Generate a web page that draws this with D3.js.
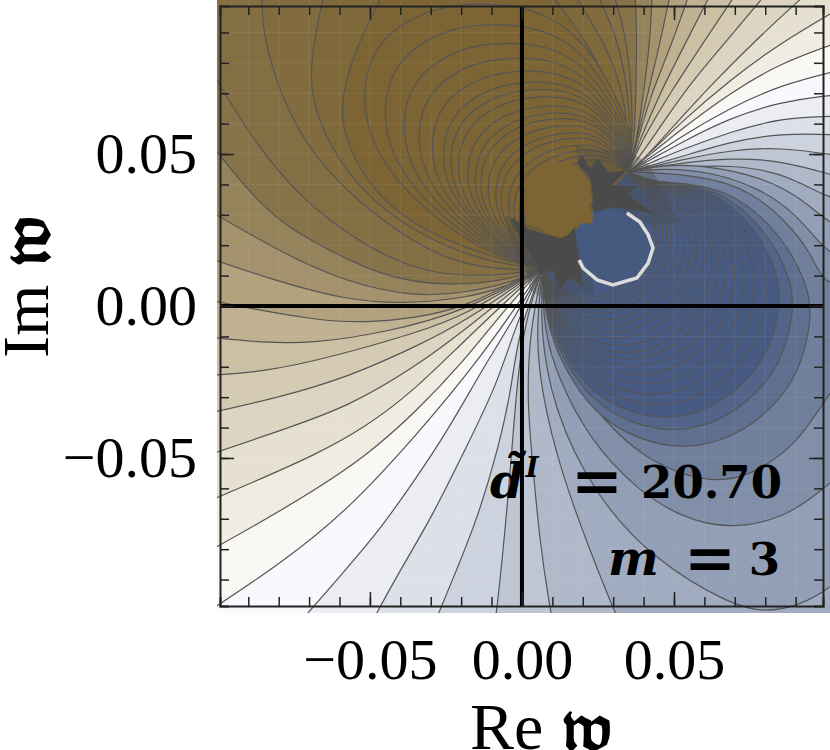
<!DOCTYPE html>
<html>
<head>
<meta charset="utf-8">
<script src="https://cdn.jsdelivr.net/npm/d3@7"></script>
<style>
  html, body { margin: 0; padding: 0; background: #fff; }
  svg { display: block; }
</style>
</head>
<body>
<div id="chart"></div>
<script>

const focusLow = [6.9, 12.8];
const focusHigh = [34.9, 44.1];

// Brown side contours that leave the frame, from the white band outwards
const brownLower = [
  [[-13.2,-16.8],[-35.2,-43.1],[-57.2,-67.1],[-79.0,-84.6],[-105.9,-102.3]],
  [[-7.2,-3.0],[-18.8,-17.8],[-35.2,-35.2],[-51.7,-49.7],[-68.1,-60.5],[-84.6,-70.4],[-105.9,-82.3]],
  [[-18.8,-11.2],[-35.2,-27.6],[-51.7,-40.1],[-68.1,-49.0],[-84.6,-56.3],[-105.9,-65.5]],
  [[-18.8,-7.9],[-35.2,-20.1],[-57.2,-33.2],[-79.0,-40.8],[-105.9,-50.0]],
  [[-18.8,-5.3],[-35.2,-13.5],[-57.2,-23.4],[-79.0,-29.9],[-105.9,-35.9]],
  [[-18.8,-3.3],[-35.2,-8.9],[-62.5,-16.8],[-84.6,-21.7],[-105.9,-23.0]],
  [[-18.8,-2.0],[-46.1,-8.9],[-68.1,-12.2],[-84.6,-12.2],[-105.9,-9.9]],
  [[-18.8,-0.7],[-35.2,-3.9],[-51.7,-5.6],[-68.1,-4.6],[-90.1,-0.7],[-105.9,2.6]],
  [[-5.6,5.9],[-20.4,2.3],[-40.1,0.7],[-57.2,2.0],[-79.0,7.6],[-105.9,16.8]],
  [[-2.3,7.9],[-18.8,4.3],[-35.2,3.0],[-57.2,7.6],[-79.0,17.4],[-105.9,33.2]],
  [[-2.3,8.9],[-24.3,6.3],[-46.1,9.5],[-68.1,20.7],[-84.6,30.6],[-105.9,57.9]],
  [[-2.3,10.2],[-29.6,9.5],[-51.7,19.4],[-73.7,35.9],[-90.1,56.9],[-104.3,80.9]],
  [[-0.7,11.5],[-24.3,13.8],[-48.4,29.3],[-68.1,48.0],[-79.0,67.8],[-85.5,89.8],[-85.5,104.0]],
  [[-0.7,12.8],[-18.8,16.5],[-40.8,27.3],[-57.2,42.4],[-68.1,62.2],[-70.4,78.6],[-64.8,104.0]],
  [[-0.7,13.5],[-18.8,19.1],[-35.2,26.3],[-49.4,38.2],[-57.2,52.3],[-60.2,64.5],[-55.9,82.6],[-45.1,104.0]]
];
const brownUpper = [
  [[104.6,77.6],[84.9,72.7],[68.4,65.1],[52.0,55.6],[42.1,48.7]],
  [[104.6,86.9],[84.9,79.9],[68.4,70.1],[52.0,57.9],[42.1,49.7]],
  [[104.6,98.0],[84.9,86.5],[68.4,74.4],[52.0,60.2],[42.1,50.3]],
  [[93.1,102.3],[79.3,89.8],[62.8,73.4],[48.7,57.9],[39.8,48.0]],
  [[79.9,102.3],[68.4,88.5],[54.3,72.1],[43.8,56.3]],
  [[70.1,102.3],[60.9,88.5],[48.7,70.1],[39.5,54.6]],
  [[61.9,102.3],[54.3,87.5],[45.4,70.1],[38.8,54.6]],
  [[54.9,102.3],[49.4,86.5],[42.1,68.8],[38.2,54.6]],
  [[48.7,102.3],[45.4,86.5],[41.1,68.8],[37.8,54.6]],
  [[42.8,102.3],[42.1,86.5],[39.8,68.8],[37.8,54.6]],
  [[37.2,102.3],[37.8,89.8],[37.5,72.7],[37.2,56.3]],
  [[30.3,102.3],[34.2,89.2],[35.9,72.7],[36.5,57.9]],
  [[25.0,102.3],[31.6,87.5],[34.5,72.7],[35.9,57.9]],
  [[17.4,102.3],[26.6,87.5],[32.2,74.4],[34.9,59.5]],
  [[9.9,102.3],[20.1,88.5],[28.0,74.4],[33.6,59.5]]
];

// Blue side contours that leave the frame, from the white band outwards
const blueLower = [
  [[-2.3,-3.6],[-13.2,-21.1],[-24.3,-40.8],[-35.2,-57.2],[-46.1,-72.7],[-57.2,-85.9],[-73.0,-104.0]],
  [[-1.6,-4.6],[-7.9,-25.3],[-18.8,-47.4],[-29.6,-69.4],[-39.5,-85.9],[-49.4,-104.0]],
  [[-1.3,-8.9],[-3.3,-26.6],[-7.9,-47.4],[-14.5,-69.4],[-21.1,-85.9],[-28.6,-104.0]],
  [[1.0,-4.6],[-1.6,-25.3],[-3.3,-47.4],[-5.6,-74.7],[-8.2,-99.4],[-8.9,-104.0]],
  [[2.6,-7.9],[1.6,-30.9],[3.6,-53.0],[5.9,-78.0],[9.2,-99.4],[10.2,-104.0]],
  [[4.3,-9.5],[6.9,-30.9],[12.5,-53.0],[20.1,-74.7],[29.9,-99.4],[32.2,-104.0]],
  [[5.9,-7.9],[10.2,-33.6],[23.4,-61.5],[43.1,-83.6],[69.4,-98.7],[79.9,-100.7],[90.5,-98.7],[99.0,-94.4],[106.3,-88.5]],
  [[6.9,-7.9],[12.5,-25.3],[22.4,-44.1],[37.8,-60.5],[52.0,-69.4],[68.4,-73.7],[87.2,-69.4],[99.0,-60.2],[106.3,-54.0]],
  [[10.2,-7.9],[16.8,-23.4],[26.6,-37.5],[39.8,-49.7],[54.3,-56.3],[67.4,-57.9],[78.3,-54.0],[90.5,-45.1],[99.0,-31.9],[104.6,-24.3]]
];
const blueUpper = [
  [[104.6,69.4],[99.0,69.1],[84.9,67.1],[68.4,61.9],[52.0,53.6],[42.1,48.0]],
  [[104.6,62.5],[84.9,61.9],[68.4,57.2],[52.0,51.3],[42.1,47.0]],
  [[104.6,56.3],[84.9,56.9],[68.4,54.0],[52.0,49.0],[42.1,46.1]],
  [[104.6,49.4],[84.9,52.3],[68.4,51.3],[52.0,48.0],[42.1,45.7]],
  [[104.6,42.4],[84.9,48.0],[68.4,48.7],[52.0,47.0],[42.1,45.4]],
  [[104.6,34.9],[99.0,36.5],[84.9,44.1],[68.4,46.4],[52.0,45.7],[42.1,44.7]],
  [[104.6,25.7],[99.0,29.0],[90.5,36.5],[76.7,43.1],[58.6,46.4],[46.4,46.4]],
  [[104.6,15.8],[99.0,19.1],[90.5,29.9],[79.3,38.2],[62.8,44.1],[46.4,45.4]],
  [[104.6,6.9],[99.0,7.9],[94.8,17.8],[87.2,27.6],[76.0,37.2],[62.8,42.1],[46.4,43.8]]
];

// Shape of a closed lobe, along and across the line between the two fans
const brownLobeShape = [
  [-25.0,6.5],[-29.4,19.3],[-30.9,35.7],[-29.9,52.9],[-24.5,66.6],[-15.4,76.1],[-5.1,80.9],[5.9,80.5],
  [17.0,75.9],[25.7,68.7],[33.8,59.1],[38.8,49.1],[40.3,38.5],[38.0,26.3],[33.7,14.9],[29.2,5.1]
];
const blueLobeShape = [
  [-33.5,12.1],[-41.1,26.8],[-45.7,44.3],[-42.8,61.0],[-34.5,75.0],[-20.7,84.7],[0,88.0],[14.8,83.5],
  [27.5,75.5],[33.0,67.5],[37.4,56.8],[39.6,42.9],[38.2,29.6],[31.9,17.6],[24.6,9.5]
];
const brownLobeSizes = [1.1,0.99,0.89,0.81,0.74,0.68,0.64,0.6,0.55,0.51,0.48,0.44,0.4,0.37,0.33,0.3,0.27,0.24];
const blueLobeSizes = [1,0.92,0.86,0.8,0.75,0.7,0.655,0.615,0.58,0.55,0.515,0.48,0.45,0.42,0.39,0.36,0.34,0.32,0.3,0.28];

// The flat patches and the dark tangle of lines between them
const brownBlob = [
  [1.0,39.2],[4.3,45.4],[9.2,47.4],[15.1,47.4],[19.1,44.7],[22.4,40.8],[22.4,36.5],[23.4,34.2],
  [21.4,32.6],[23.4,29.9],[23.0,27.0],[17.4,27.6],[15.1,23.4],[12.5,22.4],[8.2,24.0],[1.0,29.0]
];
const blueBlob = [
  [24.0,30.6],[29.9,31.9],[34.5,30.6],[38.8,27.6],[41.5,23.4],[43.1,19.1],[41.5,14.1],[37.8,9.2],[29.9,6.9],
  [24.7,8.6],[20.1,12.5],[18.8,15.1],[19.1,19.1],[17.8,19.7],[18.8,22.7],[18.1,25.7],[23.4,27.3]
];
const blueRim = blueBlob.slice(2, 12);
const upperTangle = [
  [19.7,49.7],[22.4,45.4],[25.0,48.7],[28.3,43.8],[34.5,44.7],[29.6,39.8],[37.8,39.2],[34.5,36.5],
  [44.4,29.9],[37.8,31.6],[29.9,32.6],[24.0,30.9],[22.4,33.9],[23.4,35.9],[22.4,42.1],[18.1,47.0]
];
const lowerTangle = [
  [-3.9,29.3],[2.6,25.0],[12.5,22.4],[15.8,24.0],[17.4,26.0],[18.1,19.4],[19.1,15.1],
  [20.1,6.3],[15.8,9.5],[12.5,5.3],[10.2,11.8],[5.9,10.9],[4.9,14.1],[0.3,20.7]
];
const upperHaze = [
  [17.4,53.0],[25.7,51.3],[34.9,51.3],[42.1,46.4],[47.0,36.5],[52.0,27.6],[42.1,26.6],[33.9,29.9],[22.4,31.6],[19.1,43.1]
];
const lowerHaze = [
  [-5.6,29.9],[2.6,26.6],[19.1,21.7],[22.4,13.5],[24.0,3.6],[15.8,3.6],[7.6,2.0],[2.6,5.3],[1.0,13.5],[-3.9,21.7]
];

const minorTicks = d3.range(-9, 10).map((d) => d / 100);
const majorTicks = [-0.05, 0, 0.05];

// Set up chart
const svg = d3.select("#chart").append("svg").attr("width", 830).attr("height", 750);

const x = d3.scaleLinear().domain([-0.0993, 0.099]).range([220, 823]);
const y = d3.scaleLinear().domain([-0.0987, 0.0987]).range([606, 6]);

const line = d3
  .line()
  .x((d) => x(d[0] / 1000))
  .y((d) => y(d[1] / 1000))
  .curve(d3.curveBasis);

const straight = d3
  .line()
  .x((d) => x(d[0] / 1000))
  .y((d) => y(d[1] / 1000));

svg
  .append("defs")
  .append("clipPath")
  .attr("id", "field")
  .append("rect")
  .attr("x", 217)
  .attr("y", 0)
  .attr("width", 613)
  .attr("height", 613);

// Colour of each band
const brownColor = d3
  .scaleLinear()
  .domain([0, 2, 5, 7, 10, 14])
  .range(["#f9f8f4", "#e6e0d0", "#ccc0a4", "#b2a27e", "#87734a", "#7c6434"])
  .clamp(true);
const blueColor = d3
  .scaleLinear()
  .domain([0, 3, 6, 9, 11])
  .range(["#ebedf2", "#bec6d4", "#939fb6", "#5e6f8f", "#465a82"])
  .clamp(true);

// Lobe between the two fans, scaled from its shape
function lobe(shape, size, side) {
  const len = Math.hypot(focusHigh[0] - focusLow[0], focusHigh[1] - focusLow[1]);
  const ux = (focusHigh[0] - focusLow[0]) / len;
  const uy = (focusHigh[1] - focusLow[1]) / len;
  const mx = (focusHigh[0] + focusLow[0]) / 2;
  const my = (focusHigh[1] + focusLow[1]) / 2;
  const pts = shape.map((d, i) => {
    const c = -len / 2 + (len * (i + 1)) / (shape.length + 1);
    const a = size * d[0] + (1 - size) * c;
    const b = size * d[1];
    return [mx + ux * a + side * uy * b, my + uy * a - side * ux * b];
  });
  return line([focusLow, ...pts, focusHigh]);
}

// Contour that runs off the frame: smooth branches joined outside the clip
function outer(lower, corners, upper) {
  return (
    line([focusLow, ...lower]) +
    straight(corners).replace("M", "L") +
    line([...upper, focusHigh]).replace("M", "L")
  );
}

const brownBands = [
  ...brownLower.map((d, i) => outer(d, [[-140, 134], [125, 134]], brownUpper[i])),
  ...brownLobeSizes.map((s) => lobe(brownLobeShape, s, -1))
];
const blueBands = [
  ...blueLower.map((d, i) => outer(d, [[125, -120], [125, -163]], blueUpper[i])),
  ...blueLobeSizes.map((s) => lobe(blueLobeShape, s, 1))
];

const field = svg.append("g").attr("clip-path", "url(#field)");

field
  .append("rect")
  .attr("x", 217)
  .attr("y", 0)
  .attr("width", 613)
  .attr("height", 613)
  .attr("fill", "#f8f9fc");

// Filled contour bands, outermost first
[
  [brownBands, brownColor],
  [blueBands, blueColor]
].forEach(([bands, color]) => {
  field
    .append("g")
    .selectAll("path")
    .data(bands)
    .enter()
    .append("path")
    .attr("d", (d) => d)
    .attr("fill", (d, i) => color(i))
    .attr("stroke", "#555")
    .attr("stroke-width", 1.2);
});

// Faint mesh showing through the field
field
  .append("g")
  .selectAll("line")
  .data(minorTicks)
  .enter()
  .append("line")
  .attr("x1", (d) => x(d))
  .attr("x2", (d) => x(d))
  .attr("y1", 0)
  .attr("y2", 613)
  .attr("stroke", "#fff")
  .attr("stroke-opacity", 0.07);
field
  .append("g")
  .selectAll("line")
  .data(minorTicks)
  .enter()
  .append("line")
  .attr("y1", (d) => y(d))
  .attr("y2", (d) => y(d))
  .attr("x1", 217)
  .attr("x2", 830)
  .attr("stroke", "#fff")
  .attr("stroke-opacity", 0.07);

// Tangle of lines and flat patches
[upperHaze, lowerHaze].forEach((d) => {
  field.append("path").attr("d", straight(d) + "Z").attr("fill", "#4a4a4a").attr("fill-opacity", 0.35);
});
[upperTangle, lowerTangle].forEach((d) => {
  field.append("path").attr("d", straight(d) + "Z").attr("fill", "#4a4a4a");
});
field.append("path").attr("d", straight(brownBlob) + "Z").attr("fill", "#7d6434");
field.append("path").attr("d", straight(blueBlob) + "Z").attr("fill", "#46597f");
field
  .append("path")
  .attr("d", straight(blueRim))
  .attr("fill", "none")
  .attr("stroke", "#dcdcdc")
  .attr("stroke-width", 3.5);

// Zero lines
svg
  .append("line")
  .attr("x1", x.range()[0])
  .attr("x2", x.range()[1])
  .attr("y1", y(0))
  .attr("y2", y(0))
  .attr("stroke", "#000")
  .attr("stroke-width", 4);
svg
  .append("line")
  .attr("x1", x(0))
  .attr("x2", x(0))
  .attr("y1", y.range()[0])
  .attr("y2", y.range()[1])
  .attr("stroke", "#000")
  .attr("stroke-width", 4);

// Frame and inward ticks on all four sides
const frameAxes = [
  [d3.axisBottom(x), `translate(0,${y.range()[0]})`],
  [d3.axisTop(x), `translate(0,${y.range()[1]})`],
  [d3.axisLeft(y), `translate(${x.range()[0]},0)`],
  [d3.axisRight(y), `translate(${x.range()[1]},0)`]
];
frameAxes.forEach(([axis, move]) => {
  const g = svg
    .append("g")
    .attr("transform", move)
    .call(axis.tickValues(minorTicks).tickSizeOuter(0).tickSize(-9).tickFormat(""));
  g.selectAll("line").attr("stroke", "#222").attr("stroke-width", 1.5);
  g.select(".domain").attr("stroke", "#222").attr("stroke-width", 2);
  const big = svg
    .append("g")
    .attr("transform", move)
    .call(axis.tickValues(majorTicks).tickSize(-14).tickFormat(""));
  big.select(".domain").remove();
  big.selectAll("line").attr("stroke", "#222").attr("stroke-width", 1.5);
});

// Tick labels
const labelFormat = (d) => d3.format(".2f")(d).replace("-", "\u2212");
const bottomLabels = svg
  .append("g")
  .attr("transform", `translate(0,${y.range()[0]})`)
  .call(d3.axisBottom(x).tickValues(majorTicks).tickSize(0).tickPadding(32).tickFormat(labelFormat));
const leftLabels = svg
  .append("g")
  .attr("transform", `translate(${x.range()[0]},0)`)
  .call(d3.axisLeft(y).tickValues(majorTicks).tickSize(0).tickPadding(23).tickFormat(labelFormat));
[bottomLabels, leftLabels].forEach((g) => {
  g.select(".domain").remove();
  g.selectAll("text")
    .attr("fill", "#000")
    .style("font-family", "'Liberation Serif'")
    .style("font-size", "58px");
});

// Axis titles
const title = svg
  .append("text")
  .attr("x", 470)
  .attr("y", 749)
  .attr("font-family", "'Liberation Serif'")
  .attr("font-size", 66);
title.append("tspan").text("Re ");
title.append("tspan").attr("font-family", "'DejaVu Math TeX Gyre','DejaVu Sans','DejaVu Serif'").attr("font-weight", "bold").attr("font-size", 60).text("\u{1D534}");

const titleY = svg
  .append("text")
  .attr("transform", "translate(48,358) rotate(-90)")
  .attr("font-family", "'Liberation Serif'")
  .attr("font-size", 66);
titleY.append("tspan").text("Im ");
titleY.append("tspan").attr("font-family", "'DejaVu Math TeX Gyre','DejaVu Sans','DejaVu Serif'").attr("font-weight", "bold").attr("font-size", 60).text("\u{1D534}");

// Annotation
const note = svg
  .append("g")
  .attr("font-family", "'DejaVu Serif'")
  .attr("font-weight", "bold")
  .attr("fill", "#000");
const dTilde = note.append("text").attr("x", 490).attr("y", 498).attr("font-style", "italic");
dTilde.append("tspan").attr("font-size", 48).text("d\u0303");
dTilde.append("tspan").attr("font-size", 28).attr("dx", 2).attr("dy", -21).text("I");
note.append("text").attr("x", 571).attr("y", 502).attr("font-size", 62).text("=");
note.append("text").attr("x", 782).attr("y", 498).attr("font-size", 45).attr("text-anchor", "end").text("20.70");
note.append("text").attr("x", 608).attr("y", 575).attr("font-size", 48).attr("font-style", "italic").text("m");
note.append("text").attr("x", 684).attr("y", 579).attr("font-size", 62).text("=");
note.append("text").attr("x", 780).attr("y", 575).attr("font-size", 45).attr("text-anchor", "end").text("3");
</script>
</body>
</html>
